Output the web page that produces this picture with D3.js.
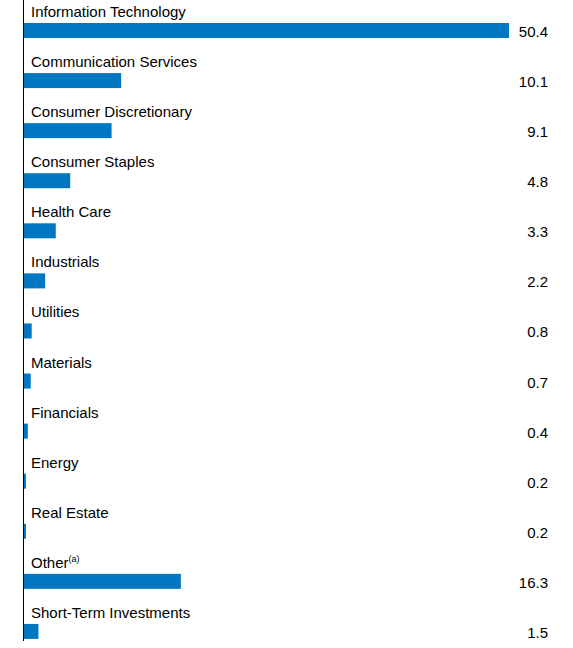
<!DOCTYPE html>
<html><head><meta charset="utf-8">
<script src="https://cdn.jsdelivr.net/npm/d3@7"></script>
<style>body{margin:0;background:#fff}text{font-family:"Liberation Sans",Arial,sans-serif}</style>
</head><body><svg id="c" width="573" height="648"></svg>
<script>
const categories=["Information Technology","Communication Services","Consumer Discretionary","Consumer Staples","Health Care","Industrials","Utilities","Materials","Financials","Energy","Real Estate","Other","Short-Term Investments"];
const values=[50.4,10.1,9.1,4.8,3.3,2.2,0.8,0.7,0.4,0.2,0.2,16.3,1.5];
const valueLabels=["50.4","10.1","9.1","4.8","3.3","2.2","0.8","0.7","0.4","0.2","0.2","16.3","1.5"];
const svg=d3.select("#c");
const x0=24;
const x=d3.scaleLinear().domain([0,50.4]).range([x0,509]);
const y=d3.scaleBand().domain(categories).range([0,651]);
const g=svg.selectAll("g.r").data(categories).join("g").attr("transform",d=>`translate(0,${y(d)})`);
g.append("text").attr("x",31).attr("y",17).attr("font-size",15).attr("fill","#000")
 .each(function(d){const t=d3.select(this);t.append("tspan").text(d);if(d==="Other")t.append("tspan").attr("font-size",9).attr("dy",-6).text("(a)");});
g.append("rect").attr("x",x0).attr("y",23).attr("height",15).attr("width",(d,i)=>Math.max(x(values[i])-x0,1.5)).attr("fill","#0077c0");
g.append("text").attr("x",548).attr("y",37).attr("text-anchor","end").attr("font-size",15).attr("fill","#000").text((d,i)=>valueLabels[i]);
svg.append("line").attr("x1",23.5).attr("x2",23.5).attr("y1",0).attr("y2",641).attr("stroke","#000").attr("stroke-width",1);
</script></body></html>
